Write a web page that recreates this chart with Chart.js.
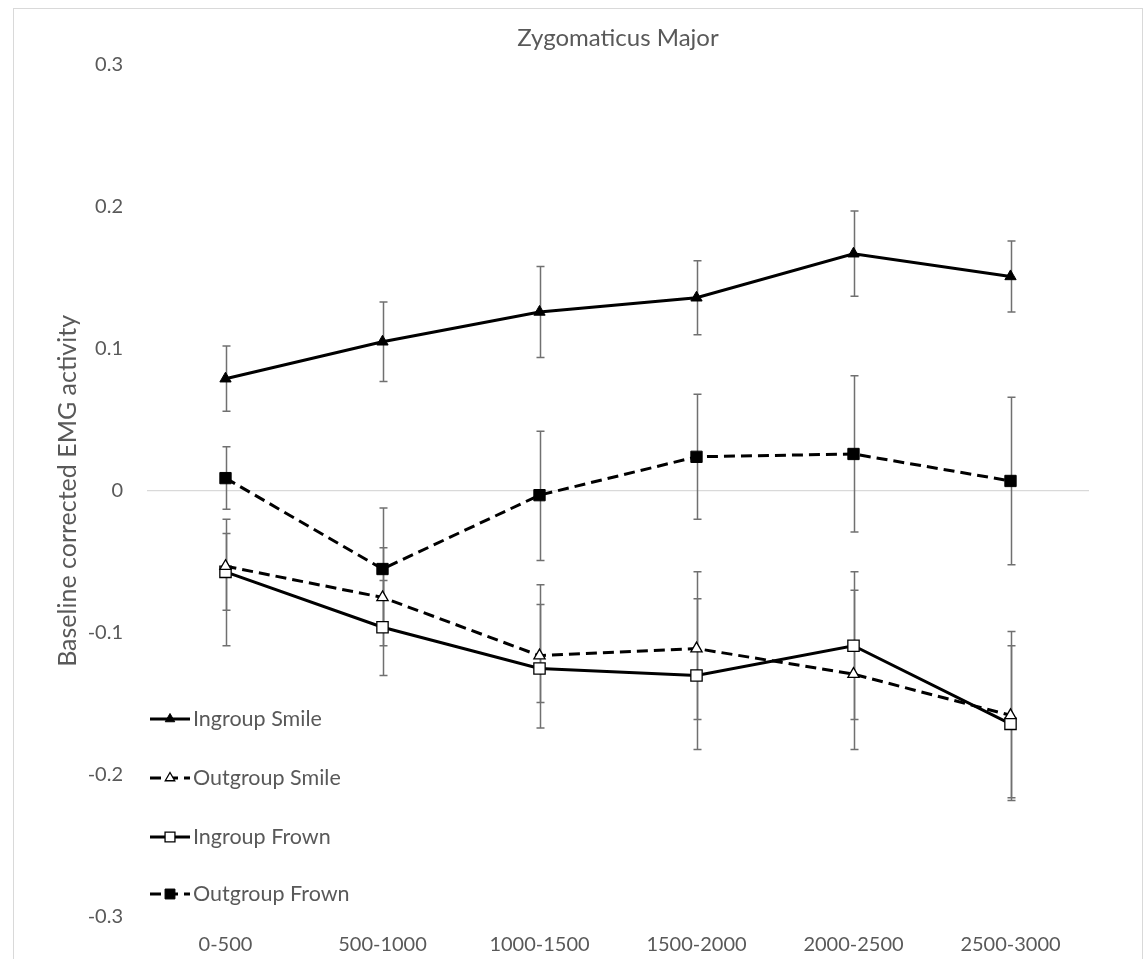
<!DOCTYPE html>
<html>
<head>
<meta charset="utf-8">
<title>Zygomaticus Major</title>
<script src="https://cdn.jsdelivr.net/npm/chart.js@4/dist/chart.umd.min.js"></script>
<style>
  body { margin: 0; background: #fff; }
  #chart { display: block; }
</style>
</head>
<body>
<canvas id="chart" width="1145" height="959"></canvas>
<script>
// values (baseline corrected EMG, zygomaticus)
const categories = ['0-500', '500-1000', '1000-1500', '1500-2000', '2000-2500', '2500-3000'];
const yTicks = [-0.3, -0.2, -0.1, 0, 0.1, 0.2, 0.3];

const ingroupSmile     = [0.079, 0.105, 0.126, 0.136, 0.167, 0.151];
const ingroupSmileLow  = [0.056, 0.077, 0.094, 0.110, 0.137, 0.126];
const ingroupSmileHigh = [0.102, 0.133, 0.158, 0.162, 0.197, 0.176];

const outgroupSmile     = [-0.053, -0.075, -0.116, -0.111, -0.129, -0.158];
const outgroupSmileLow  = [-0.084, -0.109, -0.167, -0.161, -0.182, -0.216];
const outgroupSmileHigh = [-0.020, -0.040, -0.066, -0.057, -0.070, -0.099];

const ingroupFrown     = [-0.057, -0.096, -0.125, -0.130, -0.109, -0.164];
const ingroupFrownLow  = [-0.109, -0.130, -0.149, -0.182, -0.161, -0.218];
const ingroupFrownHigh = [-0.030, -0.063, -0.080, -0.076, -0.057, -0.109];

const outgroupFrown     = [0.009, -0.055, -0.003, 0.024, 0.026, 0.007];
const outgroupFrownLow  = [-0.013, -0.098, -0.049, -0.020, -0.029, -0.052];
const outgroupFrownHigh = [0.031, -0.012, 0.042, 0.068, 0.081, 0.066];

const textColor = '#595959';
const fontFamily = 'Lato, "Liberation Sans", sans-serif';

function series(label, data, low, high, style, filled, dashed) {
  return {
    label: label,
    data: data,
    errLow: low,
    errHigh: high,
    borderColor: '#000',
    borderWidth: 3,
    borderDash: dashed ? [11, 6] : [],
    tension: 0,
    fill: false,
    pointStyle: style,
    pointRadius: style === 'rect' ? 8 : 6.5,
    pointBackgroundColor: filled ? '#000' : '#fff',
    pointBorderColor: '#000',
    pointBorderWidth: filled ? 1 : 1.3
  };
}

// error bars drawn under the lines
const errorBars = {
  id: 'errorBars',
  beforeDatasetsDraw(chart) {
    const ctx = chart.ctx;
    const x = chart.scales.x;
    const y = chart.scales.y;
    ctx.save();
    ctx.strokeStyle = '#707070';
    ctx.lineWidth = 1.5;
    chart.data.datasets.forEach((ds) => {
      ds.errLow.forEach((lo, i) => {
        const px = Math.round(x.getPixelForValue(i)) + 0.5;
        const yLo = y.getPixelForValue(lo);
        const yHi = y.getPixelForValue(ds.errHigh[i]);
        ctx.beginPath();
        ctx.moveTo(px, yHi); ctx.lineTo(px, yLo);
        ctx.moveTo(px - 4, yHi); ctx.lineTo(px + 4, yHi);
        ctx.moveTo(px - 4, yLo); ctx.lineTo(px + 4, yLo);
        ctx.stroke();
      });
    });
    ctx.restore();
  }
};

// legend sits inside the plot, lower left, like the excel one
const innerLegend = {
  id: 'innerLegend',
  afterDraw(chart) {
    const ctx = chart.ctx;
    const rows = [719, 778, 837, 894];
    ctx.save();
    chart.data.datasets.forEach((ds, i) => {
      const ly = rows[i];
      ctx.strokeStyle = '#000';
      ctx.lineWidth = 3;
      ctx.setLineDash(ds.borderDash);
      ctx.beginPath();
      ctx.moveTo(150, ly); ctx.lineTo(190, ly);
      ctx.stroke();
      ctx.setLineDash([]);
      ctx.fillStyle = ds.pointBackgroundColor;
      ctx.strokeStyle = ds.pointBorderColor;
      ctx.lineWidth = ds.pointBorderWidth;
      Chart.helpers.drawPoint(ctx, {
        pointStyle: ds.pointStyle,
        radius: ds.pointRadius - 1,
        rotation: 0,
        borderWidth: ds.pointBorderWidth
      }, 170, ly);
      ctx.fillStyle = textColor;
      ctx.font = '21.5px ' + fontFamily;
      ctx.textBaseline = 'middle';
      ctx.textAlign = 'left';
      ctx.fillText(ds.label, 193, ly);
    });
    ctx.restore();
  }
};

const frame = {
  id: 'frame',
  beforeDraw(chart) {
    const ctx = chart.ctx;
    ctx.save();
    ctx.strokeStyle = '#d9d9d9';
    ctx.lineWidth = 1;
    ctx.strokeRect(13.5, 8.5, 1129, 970);
    ctx.restore();
  }
};

const ctx = document.getElementById('chart').getContext('2d');
const chart = new Chart(ctx, {
  type: 'line',
  data: {
    labels: categories,
    datasets: [
      series('Ingroup Smile', ingroupSmile, ingroupSmileLow, ingroupSmileHigh, 'triangle', true, false),
      series('Outgroup Smile', outgroupSmile, outgroupSmileLow, outgroupSmileHigh, 'triangle', false, true),
      series('Ingroup Frown', ingroupFrown, ingroupFrownLow, ingroupFrownHigh, 'rect', false, false),
      series('Outgroup Frown', outgroupFrown, outgroupFrownLow, outgroupFrownHigh, 'rect', true, true)
    ]
  },
  options: {
    responsive: false,
    animation: false,
    devicePixelRatio: 1,
    layout: { padding: { left: 0, right: 56, top: 0, bottom: 0 } },
    plugins: {
      legend: { display: false },
      tooltip: { enabled: false },
      title: {
        display: true,
        text: 'Zygomaticus Major',
        color: textColor,
        fullSize: false,
        font: { family: fontFamily, size: 24, weight: 'normal' },
        padding: { top: 24, bottom: 12 }
      }
    },
    scales: {
      x: {
        offset: true,
        grid: { display: false, drawTicks: false },
        border: { display: false },
        ticks: { color: textColor, font: { family: fontFamily, size: 20 }, padding: 16, maxRotation: 0 },
        afterFit(scale) { scale.height = 42; }
      },
      y: {
        min: -0.3,
        max: 0.3,
        afterBuildTicks(scale) { scale.ticks = yTicks.map((v) => ({ value: v })); },
        grid: {
          drawTicks: false,
          color: (c) => (c.tick && c.tick.value === 0 ? '#d9d9d9' : 'rgba(0,0,0,0)'),
          lineWidth: 1.3
        },
        border: { display: false },
        ticks: {
          color: textColor,
          font: { family: fontFamily, size: 20 },
          padding: 24,
          callback: (v) => (v === 0 ? '0' : String(Math.round(v * 10) / 10))
        },
        title: {
          display: true,
          text: 'Baseline corrected EMG activity',
          color: textColor,
          font: { family: fontFamily, size: 25 },
          padding: { top: 53, bottom: 0 }
        },
        afterFit(scale) { scale.width = 147; }
      }
    }
  },
  plugins: [errorBars, innerLegend, frame]
});
</script>
</body>
</html>
